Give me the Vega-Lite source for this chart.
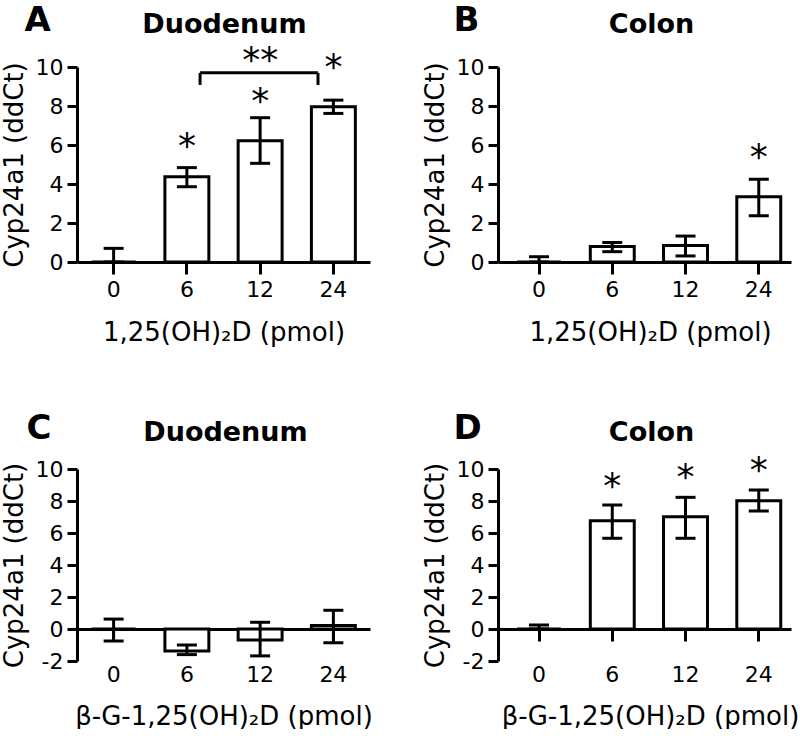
{
  "$schema": "https://vega.github.io/schema/vega-lite/v6.json",
  "padding": {"left": 1, "top": 3, "right": 0, "bottom": 0},
  "background": "white",
  "columns": 2,
  "bounds": "flush",
  "spacing": {"row": 207, "column": 128},
  "config": {
    "font": "DejaVu Sans",
    "view": {"stroke": null},
    "axis": {"grid": false, "domainColor": "black", "domainWidth": 3, "tickColor": "black", "tickWidth": 3,
      "labelFont": "DejaVu Sans", "labelFontSize": 22, "labelColor": "black",
      "titleFont": "DejaVu Sans", "titleFontSize": 26, "titleFontWeight": "normal", "titleColor": "black"},
    "axisX": {"tickSize": 12, "labelAngle": 0, "labelPadding": 5},
    "axisY": {"tickSize": 10, "labelPadding": 4, "titlePadding": 8}
  },
  "concat": [
    {
      "width": 293, "height": 195,
      "data": {"values": [
        {"dose": "0", "mean": 0, "lo": 0, "hi": 0.7},
        {"dose": "6", "mean": 4.37, "lo": 3.86, "hi": 4.84},
        {"dose": "12", "mean": 6.22, "lo": 5.06, "hi": 7.4},
        {"dose": "24", "mean": 7.96, "lo": 7.62, "hi": 8.3}
      ]},
      "layer": [
        {"mark": {"type": "bar", "fill": "white", "stroke": "black", "strokeWidth": 3},
          "encoding": {
            "x": {"field": "dose", "type": "nominal", "scale": {"domain": ["0", "6", "12", "24"], "paddingInner": 0.4, "paddingOuter": 0.2},
              "axis": {"orient": "bottom", "title": "1,25(OH)₂D (pmol)", "titleY": 78, "titleBaseline": "alphabetic"}},
            "y": {"field": "mean", "type": "quantitative", "scale": {"domain": [0, 10], "nice": false},
              "axis": {"orient": "left", "title": "Cyp24a1 (ddCt)", "values": [0, 2, 4, 6, 8, 10]}}}},
        {"mark": {"type": "rule", "strokeWidth": 3, "color": "black"},
          "encoding": {"x": {"field": "dose", "type": "nominal", "axis": null}, "y": {"field": "lo", "type": "quantitative", "axis": {"orient": "left", "title": "Cyp24a1 (ddCt)", "values": [0, 2, 4, 6, 8, 10]}}, "y2": {"field": "hi"}}},
        {"mark": {"type": "tick", "thickness": 3, "size": 20, "color": "black", "opacity": 1},
          "encoding": {"x": {"field": "dose", "type": "nominal",
              "axis": {"orient": "top", "title": "A", "labels": false, "ticks": false, "domain": false, "titleFontSize": 34, "titleFontWeight": "bold", "titleX": -53, "titleY": -37, "titleAlign": "left", "titleBaseline": "alphabetic"}},
            "y": {"field": "lo", "type": "quantitative", "axis": {"orient": "left", "title": "Cyp24a1 (ddCt)", "values": [0, 2, 4, 6, 8, 10]}}}},
        {"mark": {"type": "tick", "thickness": 3, "size": 20, "color": "black", "opacity": 1},
          "encoding": {"x": {"field": "dose", "type": "nominal",
              "axis": {"orient": "top", "title": "Duodenum", "labels": false, "ticks": false, "domain": false, "titleFontSize": 27, "titleFontWeight": "bold", "titleX": 147, "titleY": -35, "titleAlign": "center", "titleBaseline": "alphabetic"}},
            "y": {"field": "hi", "type": "quantitative", "axis": {"orient": "left", "title": "Cyp24a1 (ddCt)", "values": [0, 2, 4, 6, 8, 10]}}}},
        {"data": {"values": [
          {"dose": "6", "sy": 6.17, "star": "*"},
          {"dose": "12", "sy": 8.44, "star": "*"},
          {"dose": "24", "sy": 10.18, "star": "*"},
          {"dose": "12", "sy": 10.54, "star": "**"}
        ]},
          "mark": {"type": "text", "fontSize": 36, "baseline": "alphabetic", "dy": 16, "color": "black"},
          "encoding": {"x": {"field": "dose", "type": "nominal", "axis": null}, "y": {"field": "sy", "type": "quantitative", "axis": {"orient": "left", "title": "Cyp24a1 (ddCt)", "values": [0, 2, 4, 6, 8, 10]}}, "text": {"field": "star"}}},
        {"data": {"values": [{"dose": "6", "dose2": "24", "by": 9.7, "bl": 9.08}]},
          "layer": [
            {"mark": {"type": "rule", "strokeWidth": 3, "color": "black"},
              "encoding": {"x": {"field": "dose", "type": "nominal", "bandPosition": 0.8, "axis": null}, "x2": {"field": "dose2", "bandPosition": 0.15}, "y": {"field": "by", "type": "quantitative", "axis": {"orient": "left", "title": "Cyp24a1 (ddCt)", "values": [0, 2, 4, 6, 8, 10]}}}},
            {"mark": {"type": "rule", "strokeWidth": 3, "color": "black"},
              "encoding": {"x": {"field": "dose", "type": "nominal", "bandPosition": 0.8, "axis": null}, "y": {"field": "bl", "type": "quantitative", "axis": {"orient": "left", "title": "Cyp24a1 (ddCt)", "values": [0, 2, 4, 6, 8, 10]}}, "y2": {"field": "by"}}},
            {"mark": {"type": "rule", "strokeWidth": 3, "color": "black"},
              "encoding": {"x": {"field": "dose2", "type": "nominal", "bandPosition": 0.15, "axis": null}, "y": {"field": "bl", "type": "quantitative", "axis": {"orient": "left", "title": "Cyp24a1 (ddCt)", "values": [0, 2, 4, 6, 8, 10]}}, "y2": {"field": "by"}}}
          ]}
      ]
    },
    {
      "width": 293, "height": 195,
      "data": {"values": [
        {"dose": "0", "mean": 0, "lo": 0, "hi": 0.27},
        {"dose": "6", "mean": 0.79, "lo": 0.53, "hi": 1.0},
        {"dose": "12", "mean": 0.84, "lo": 0.31, "hi": 1.33},
        {"dose": "24", "mean": 3.35, "lo": 2.37, "hi": 4.24}
      ]},
      "layer": [
        {"mark": {"type": "bar", "fill": "white", "stroke": "black", "strokeWidth": 3},
          "encoding": {
            "x": {"field": "dose", "type": "nominal", "scale": {"domain": ["0", "6", "12", "24"], "paddingInner": 0.4, "paddingOuter": 0.2, "align": 0.65},
              "axis": {"orient": "bottom", "title": "1,25(OH)₂D (pmol)", "titleX": 152, "titleY": 78, "titleBaseline": "alphabetic"}},
            "y": {"field": "mean", "type": "quantitative", "scale": {"domain": [0, 10], "nice": false},
              "axis": {"orient": "left", "title": "Cyp24a1 (ddCt)", "values": [0, 2, 4, 6, 8, 10]}}}},
        {"mark": {"type": "rule", "strokeWidth": 3, "color": "black"},
          "encoding": {"x": {"field": "dose", "type": "nominal", "axis": null}, "y": {"field": "lo", "type": "quantitative", "axis": {"orient": "left", "title": "Cyp24a1 (ddCt)", "values": [0, 2, 4, 6, 8, 10]}}, "y2": {"field": "hi"}}},
        {"mark": {"type": "tick", "thickness": 3, "size": 20, "color": "black", "opacity": 1},
          "encoding": {"x": {"field": "dose", "type": "nominal",
              "axis": {"orient": "top", "title": "B", "labels": false, "ticks": false, "domain": false, "titleFontSize": 34, "titleFontWeight": "bold", "titleX": -45, "titleY": -37, "titleAlign": "left", "titleBaseline": "alphabetic"}},
            "y": {"field": "lo", "type": "quantitative", "axis": {"orient": "left", "title": "Cyp24a1 (ddCt)", "values": [0, 2, 4, 6, 8, 10]}}}},
        {"mark": {"type": "tick", "thickness": 3, "size": 20, "color": "black", "opacity": 1},
          "encoding": {"x": {"field": "dose", "type": "nominal",
              "axis": {"orient": "top", "title": "Colon", "labels": false, "ticks": false, "domain": false, "titleFontSize": 27, "titleFontWeight": "bold", "titleX": 153, "titleY": -35, "titleAlign": "center", "titleBaseline": "alphabetic"}},
            "y": {"field": "hi", "type": "quantitative", "axis": {"orient": "left", "title": "Cyp24a1 (ddCt)", "values": [0, 2, 4, 6, 8, 10]}}}},
        {"data": {"values": [
          {"dose": "24", "sy": 5.6, "star": "*"}
        ]},
          "mark": {"type": "text", "fontSize": 36, "baseline": "alphabetic", "dy": 16, "color": "black"},
          "encoding": {"x": {"field": "dose", "type": "nominal", "axis": null}, "y": {"field": "sy", "type": "quantitative", "axis": {"orient": "left", "title": "Cyp24a1 (ddCt)", "values": [0, 2, 4, 6, 8, 10]}}, "text": {"field": "star"}}}
      ]
    },
    {
      "width": 293, "height": 192,
      "data": {"values": [
        {"dose": "0", "mean": 0, "lo": -0.75, "hi": 0.62},
        {"dose": "6", "mean": -1.37, "lo": -1.6, "hi": -1.0},
        {"dose": "12", "mean": -0.68, "lo": -1.68, "hi": 0.42},
        {"dose": "24", "mean": 0.22, "lo": -0.86, "hi": 1.17}
      ]},
      "layer": [
        {"mark": {"type": "bar", "fill": "white", "stroke": "black", "strokeWidth": 3},
          "encoding": {
            "x": {"field": "dose", "type": "nominal", "scale": {"domain": ["0", "6", "12", "24"], "paddingInner": 0.4, "paddingOuter": 0.2},
              "axis": {"orient": "bottom", "offset": -32, "labelPadding": 23, "title": "β-G-1,25(OH)₂D (pmol)", "titleY": 95, "titleBaseline": "alphabetic"}},
            "y": {"field": "mean", "type": "quantitative", "scale": {"domain": [-2, 10], "nice": false},
              "axis": {"orient": "left", "title": "Cyp24a1 (ddCt)", "values": [-2, 0, 2, 4, 6, 8, 10], "labelExpr": "'' + datum.value"}}}},
        {"mark": {"type": "rule", "strokeWidth": 3, "color": "black"},
          "encoding": {"x": {"field": "dose", "type": "nominal", "axis": null}, "y": {"field": "lo", "type": "quantitative", "axis": {"orient": "left", "title": "Cyp24a1 (ddCt)", "values": [-2, 0, 2, 4, 6, 8, 10], "labelExpr": "'' + datum.value"}}, "y2": {"field": "hi"}}},
        {"mark": {"type": "tick", "thickness": 3, "size": 20, "color": "black", "opacity": 1},
          "encoding": {"x": {"field": "dose", "type": "nominal",
              "axis": {"orient": "top", "title": "C", "labels": false, "ticks": false, "domain": false, "titleFontSize": 34, "titleFontWeight": "bold", "titleX": -51, "titleY": -31, "titleAlign": "left", "titleBaseline": "alphabetic"}},
            "y": {"field": "lo", "type": "quantitative", "axis": {"orient": "left", "title": "Cyp24a1 (ddCt)", "values": [-2, 0, 2, 4, 6, 8, 10], "labelExpr": "'' + datum.value"}}}},
        {"mark": {"type": "tick", "thickness": 3, "size": 20, "color": "black", "opacity": 1},
          "encoding": {"x": {"field": "dose", "type": "nominal",
              "axis": {"orient": "top", "title": "Duodenum", "labels": false, "ticks": false, "domain": false, "titleFontSize": 27, "titleFontWeight": "bold", "titleX": 148, "titleY": -29, "titleAlign": "center", "titleBaseline": "alphabetic"}},
            "y": {"field": "hi", "type": "quantitative", "axis": {"orient": "left", "title": "Cyp24a1 (ddCt)", "values": [-2, 0, 2, 4, 6, 8, 10], "labelExpr": "'' + datum.value"}}}}
      ]
    },
    {
      "width": 293, "height": 192,
      "data": {"values": [
        {"dose": "0", "mean": 0, "lo": 0, "hi": 0.25},
        {"dose": "6", "mean": 6.77, "lo": 5.67, "hi": 7.75},
        {"dose": "12", "mean": 7.02, "lo": 5.67, "hi": 8.23},
        {"dose": "24", "mean": 8.02, "lo": 7.38, "hi": 8.69}
      ]},
      "layer": [
        {"mark": {"type": "bar", "fill": "white", "stroke": "black", "strokeWidth": 3},
          "encoding": {
            "x": {"field": "dose", "type": "nominal", "scale": {"domain": ["0", "6", "12", "24"], "paddingInner": 0.4, "paddingOuter": 0.2, "align": 0.65},
              "axis": {"orient": "bottom", "offset": -32, "labelPadding": 23, "title": "β-G-1,25(OH)₂D (pmol)", "titleX": 152, "titleY": 95, "titleBaseline": "alphabetic"}},
            "y": {"field": "mean", "type": "quantitative", "scale": {"domain": [-2, 10], "nice": false},
              "axis": {"orient": "left", "title": "Cyp24a1 (ddCt)", "values": [-2, 0, 2, 4, 6, 8, 10], "labelExpr": "'' + datum.value"}}}},
        {"mark": {"type": "rule", "strokeWidth": 3, "color": "black"},
          "encoding": {"x": {"field": "dose", "type": "nominal", "axis": null}, "y": {"field": "lo", "type": "quantitative", "axis": {"orient": "left", "title": "Cyp24a1 (ddCt)", "values": [-2, 0, 2, 4, 6, 8, 10], "labelExpr": "'' + datum.value"}}, "y2": {"field": "hi"}}},
        {"mark": {"type": "tick", "thickness": 3, "size": 20, "color": "black", "opacity": 1},
          "encoding": {"x": {"field": "dose", "type": "nominal",
              "axis": {"orient": "top", "title": "D", "labels": false, "ticks": false, "domain": false, "titleFontSize": 34, "titleFontWeight": "bold", "titleX": -45, "titleY": -31, "titleAlign": "left", "titleBaseline": "alphabetic"}},
            "y": {"field": "lo", "type": "quantitative", "axis": {"orient": "left", "title": "Cyp24a1 (ddCt)", "values": [-2, 0, 2, 4, 6, 8, 10], "labelExpr": "'' + datum.value"}}}},
        {"mark": {"type": "tick", "thickness": 3, "size": 20, "color": "black", "opacity": 1},
          "encoding": {"x": {"field": "dose", "type": "nominal",
              "axis": {"orient": "top", "title": "Colon", "labels": false, "ticks": false, "domain": false, "titleFontSize": 27, "titleFontWeight": "bold", "titleX": 153, "titleY": -29, "titleAlign": "center", "titleBaseline": "alphabetic"}},
            "y": {"field": "hi", "type": "quantitative", "axis": {"orient": "left", "title": "Cyp24a1 (ddCt)", "values": [-2, 0, 2, 4, 6, 8, 10], "labelExpr": "'' + datum.value"}}}},
        {"data": {"values": [
          {"dose": "6", "sy": 9.19, "star": "*"},
          {"dose": "12", "sy": 9.73, "star": "*"},
          {"dose": "24", "sy": 10.2, "star": "*"}
        ]},
          "mark": {"type": "text", "fontSize": 36, "baseline": "alphabetic", "dy": 16, "color": "black"},
          "encoding": {"x": {"field": "dose", "type": "nominal", "axis": null}, "y": {"field": "sy", "type": "quantitative", "axis": {"orient": "left", "title": "Cyp24a1 (ddCt)", "values": [-2, 0, 2, 4, 6, 8, 10], "labelExpr": "'' + datum.value"}}, "text": {"field": "star"}}}
      ]
    }
  ]
}
